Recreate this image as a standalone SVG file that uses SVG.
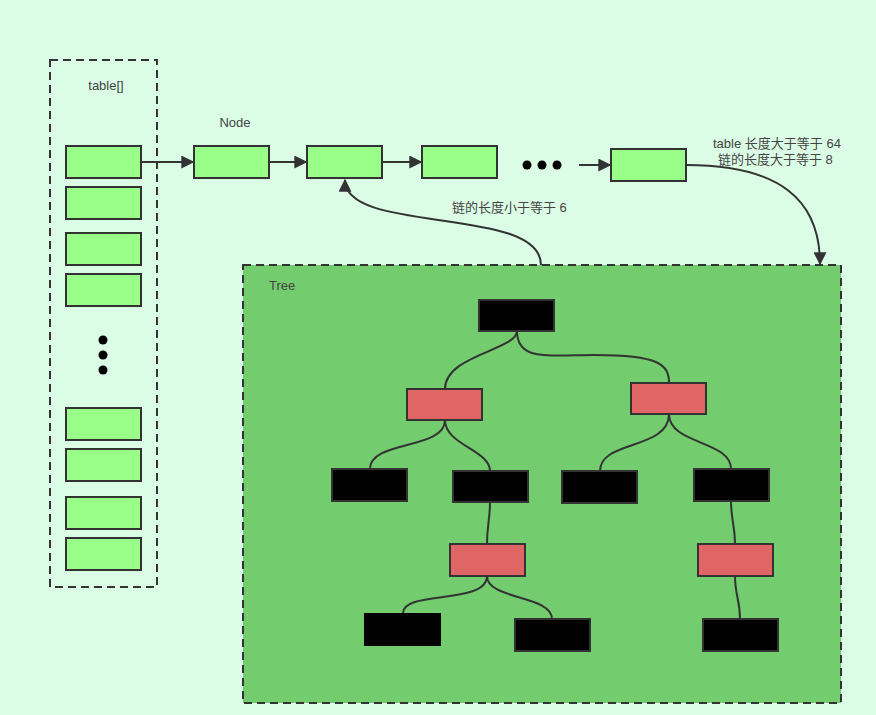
<svg xmlns="http://www.w3.org/2000/svg" width="876" height="715" viewBox="0 0 876 715">
<defs>
<style>
.lbl{font-family:"Liberation Sans","Noto Sans CJK SC",sans-serif;font-size:13px;fill:#444}
.g{fill:#99ff88;stroke:#333;stroke-width:2}
.r{fill:#e06666;stroke:#333;stroke-width:2}
.b{fill:#000;stroke:#333;stroke-width:2}
.e{fill:none;stroke:#333;stroke-width:2}
.dash{stroke:#333;stroke-width:2;stroke-dasharray:8 5}
</style>
<marker id="ah" viewBox="0 0 10 10" refX="9" refY="5" markerWidth="13" markerHeight="13" markerUnits="userSpaceOnUse" orient="auto">
<path d="M0,0 L10,5 L0,10 z" fill="#333"/>
</marker>
</defs>
<rect width="876" height="715" fill="#dbfde5"/>
<g id="table">
<rect x="50" y="60" width="107" height="527" fill="none" class="dash"/>
<text class="lbl" x="106" y="90" text-anchor="middle">table[]</text>
<rect class="g" x="66" y="146" width="75" height="32"/>
<rect class="g" x="66" y="187" width="75" height="32"/>
<rect class="g" x="66" y="233" width="75" height="32"/>
<rect class="g" x="66" y="274" width="75" height="32"/>
<circle cx="103" cy="340" r="4.5"/>
<circle cx="103" cy="355" r="4.5"/>
<circle cx="103" cy="370" r="4.5"/>
<rect class="g" x="66" y="408" width="75" height="32"/>
<rect class="g" x="66" y="449" width="75" height="32"/>
<rect class="g" x="66" y="497" width="75" height="32"/>
<rect class="g" x="66" y="538" width="75" height="32"/>
</g>
<g id="tree">
<rect x="243" y="265" width="598" height="438" fill="#73cc6e" class="dash"/>
<text class="lbl" x="269" y="290">Tree</text>
</g>
<g id="node1"><text class="lbl" x="235" y="127" text-anchor="middle">Node</text><rect class="g" x="194" y="146" width="75" height="32"/></g>
<g id="node2"><rect class="g" x="307" y="146" width="75" height="32"/></g>
<g id="node3"><rect class="g" x="422" y="146" width="75" height="32"/></g>
<g id="ellipsis"><circle cx="527" cy="165" r="4.5"/><circle cx="542" cy="165" r="4.5"/><circle cx="557" cy="165" r="4.5"/></g>
<g id="node4"><rect class="g" x="611" y="149" width="75" height="32"/></g>
<g id="labels">
<text class="lbl" x="452" y="212">链的长度小于等于 6</text>
<text class="lbl" x="713" y="148">table 长度大于等于 64</text>
<text class="lbl" x="718" y="164">链的长度大于等于 8</text>
</g>
<g id="connectors">
<path class="e" d="M141,162 H193" marker-end="url(#ah)"/>
<path class="e" d="M269,162 H306" marker-end="url(#ah)"/>
<path class="e" d="M382,162 H421" marker-end="url(#ah)"/>
<path class="e" d="M579,165 H610" marker-end="url(#ah)"/>
<path class="e" d="M541,265 C541,205 345,235 345,180" marker-end="url(#ah)"/>
<path class="e" d="M686,165 C780,165 820,200 820,264" marker-end="url(#ah)"/>
<path class="e" d="M517,331 C517,350 445,355 445,389"/>
<path class="e" d="M517,331 C517,362 550,355 595,355 C660,355 669,365 669,383"/>
<path class="e" d="M445,420 C445,450 370,440 370,469"/>
<path class="e" d="M445,420 C445,445 490,450 490,471"/>
<path class="e" d="M669,414 C669,450 600,440 600,471"/>
<path class="e" d="M669,414 C669,445 731,440 731,469"/>
<path class="e" d="M490,502 C490,520 487,525 487,544"/>
<path class="e" d="M731,501 C731,520 735,525 735,544"/>
<path class="e" d="M487,576 C487,605 403,590 403,613"/>
<path class="e" d="M487,576 C487,600 552,595 552,619"/>
<path class="e" d="M735,576 C735,595 740,600 740,619"/>
</g>
<g id="t1"><rect class="b" x="479" y="300" width="75" height="31"/></g>
<g id="t2"><rect class="r" x="407" y="389" width="75" height="31"/></g>
<g id="t3"><rect class="r" x="631" y="383" width="75" height="31"/></g>
<g id="t4"><rect class="b" x="332" y="469" width="75" height="32"/></g>
<g id="t5"><rect class="b" x="453" y="471" width="75" height="31"/></g>
<g id="t6"><rect class="b" x="562" y="471" width="75" height="32"/></g>
<g id="t7"><rect class="b" x="694" y="469" width="75" height="32"/></g>
<g id="t8"><rect class="r" x="450" y="544" width="75" height="32"/></g>
<g id="t9"><rect class="r" x="698" y="544" width="75" height="32"/></g>
<g id="t10"><rect x="364" y="613" width="77" height="33" fill="#000"/></g>
<g id="t11"><rect class="b" x="515" y="619" width="75" height="32"/></g>
<g id="t12"><rect class="b" x="703" y="619" width="75" height="32"/></g>
</svg>
